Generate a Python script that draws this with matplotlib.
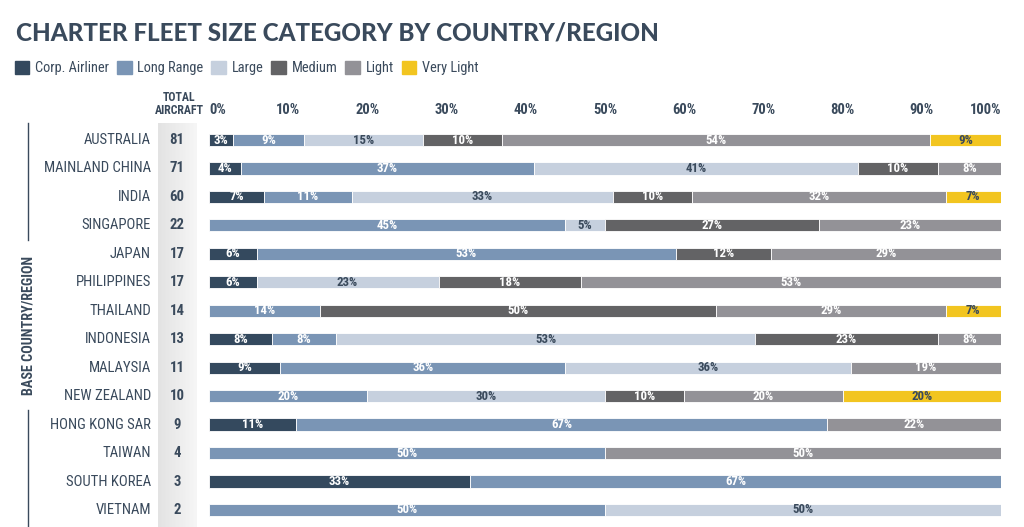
import matplotlib
matplotlib.use("Agg")
import matplotlib.pyplot as plt
import matplotlib.transforms as mtransforms
import matplotlib.patches as mpatches
from matplotlib import font_manager
import numpy as np

# ---------------------------------------------------------------------------
# Data (percent shares)
# ---------------------------------------------------------------------------
countries = ["AUSTRALIA", "MAINLAND CHINA", "INDIA", "SINGAPORE", "JAPAN",
             "PHILIPPINES", "THAILAND", "INDONESIA", "MALAYSIA", "NEW ZEALAND",
             "HONG KONG SAR", "TAIWAN", "SOUTH KOREA", "VIETNAM"]
totals = [81, 71, 60, 22, 17, 17, 14, 13, 11, 10, 9, 4, 3, 2]

categories = ["Corp. Airliner", "Long Range", "Large", "Medium", "Light", "Very Light"]
corp_airliner = [3, 4, 7, 0, 6, 6, 0, 8, 9, 0, 11, 0, 33, 0]
long_range    = [9, 37, 11, 45, 53, 0, 14, 8, 36, 20, 67, 50, 67, 50]
large         = [15, 41, 33, 5, 0, 23, 0, 53, 36, 30, 0, 0, 0, 50]
medium        = [10, 10, 10, 27, 12, 18, 50, 23, 0, 10, 0, 0, 0, 0]
light         = [54, 8, 32, 23, 29, 53, 29, 8, 19, 20, 22, 50, 0, 0]
very_light    = [9, 0, 7, 0, 0, 0, 7, 0, 0, 20, 0, 0, 0, 0]

series = [corp_airliner, long_range, large, medium, light, very_light]
colors = ["#34495e", "#7a95b5", "#c6d0de", "#636365", "#939297", "#f2c520"]
label_colors = ["white", "white", "#3a4a5c", "white", "white", "#3a4a5c"]

DARK = "#3a4a5c"
installed = {f.name for f in font_manager.fontManager.ttflist}
narrow_pick = [n for n in ["Roboto Condensed", "Liberation Sans Narrow",
                           "Open Sans Condensed", "Roboto"] if n in installed]
NARROW = narrow_pick[:1] + ["DejaVu Sans"]
IS_CONDENSED = NARROW[0] != "Roboto"
sz = 1.0 if IS_CONDENSED else 0.9

W, H = 1024, 527
fig = plt.figure(figsize=(W / 100, H / 100), dpi=100)


def fx(px):
    return px / W


def fy(py):
    return 1 - py / H


# main axes: 0% at x=209, 100% at x=1001; rows start at y=140, step 28.46
row_step = 28.46
ax_top, ax_bot = 123, 527
ax = fig.add_axes([fx(209), fy(ax_bot), fx(1001) - fx(209), (ax_bot - ax_top) / H])
ax.set_xlim(0, 100)
ax.set_ylim((ax_bot - 140) / row_step, -(140 - ax_top) / row_step)

# grey "total" column
bg = fig.add_axes([fx(158), fy(ax_bot), fx(197) - fx(158), (ax_bot - ax_top) / H])
grad = np.linspace(0, 1, 50).reshape(1, -1)
bg.imshow(grad, aspect="auto", cmap=matplotlib.colors.LinearSegmentedColormap.from_list(
    "g", ["#e3e3e3", "#f6f6f6"]), extent=[0, 1, 0, 1])
bg.axis("off")

y = np.arange(len(countries))
left = np.zeros(len(countries))
for vals, col, lcol in zip(series, colors, label_colors):
    vals = np.array(vals, dtype=float)
    ax.barh(y, vals, left=left, height=0.43, color=col, edgecolor="white", linewidth=0.6)
    for i, v in enumerate(vals):
        if v > 0:
            ax.text(left[i] + v / 2, y[i], f"{int(v)}%", ha="center", va="center",
                    fontsize=9.3 * sz, color=lcol, family=NARROW, fontweight="bold")
    left += vals

ax.set_xticks(np.arange(0, 101, 10))
ax.set_xticklabels([f"{t}%" for t in range(0, 101, 10)])
ax.tick_params(top=True, labeltop=True, bottom=False, labelbottom=False,
               left=False, labelleft=False, length=0, pad=4)
ticklabs = ax.get_xticklabels()
for lab in ticklabs:
    lab.set_fontfamily(NARROW)
    lab.set_fontweight("bold")
    lab.set_fontsize(10.5 * sz)
    lab.set_color(DARK)
ticklabs[0].set_horizontalalignment("left")
ticklabs[-1].set_horizontalalignment("right")
for s in ax.spines.values():
    s.set_visible(False)

# row labels and totals
tr = mtransforms.blended_transform_factory(fig.transFigure, ax.transData)
for i, (c, t) in enumerate(zip(countries, totals)):
    fig.text(fx(151), y[i], c, transform=tr, ha="right", va="center",
             fontsize=10.6 * sz, color=DARK, family=NARROW)
    fig.text(fx(177), y[i], str(t), transform=tr, ha="center", va="center",
             fontsize=10.6 * sz, color=DARK, family=NARROW, fontweight="bold")

fig.text(fx(204), fy(104), "TOTAL\nAIRCRAFT", ha="right", va="center",
         fontsize=8.6 * sz, color=DARK, family=NARROW, fontweight="bold",
         linespacing=0.95, multialignment="center")

# vertical axis title with rules
fig.text(fx(29), fy(325), "BASE COUNTRY/REGION", rotation=90, ha="center", va="center",
         fontsize=10.2 * sz, color=DARK, family=NARROW, fontweight="bold")
fig.add_artist(plt.Line2D([fx(28), fx(28)], [fy(123), fy(240)], color=DARK, lw=1))
fig.add_artist(plt.Line2D([fx(28), fx(28)], [fy(410), fy(527)], color=DARK, lw=1))

# title
fig.text(fx(16), fy(33), "CHARTER FLEET SIZE CATEGORY BY COUNTRY/REGION",
         ha="left", va="center", fontsize=17.4, color=DARK,
         family=["Lato", "DejaVu Sans"], fontweight="black")

# legend
handles = [mpatches.Patch(color=c, label=l) for c, l in zip(colors, categories)]
leg = fig.legend(handles=handles, loc="center left", bbox_to_anchor=(fx(15), fy(68)),
                 ncol=6, frameon=False, handlelength=1.0, handleheight=1.0,
                 handletextpad=0.4, columnspacing=0.55, borderpad=0, borderaxespad=0,
                 prop={"family": NARROW, "size": 10.4 * sz})
for txt in leg.get_texts():
    txt.set_color(DARK)

fig.savefig("out.png", dpi=100)
